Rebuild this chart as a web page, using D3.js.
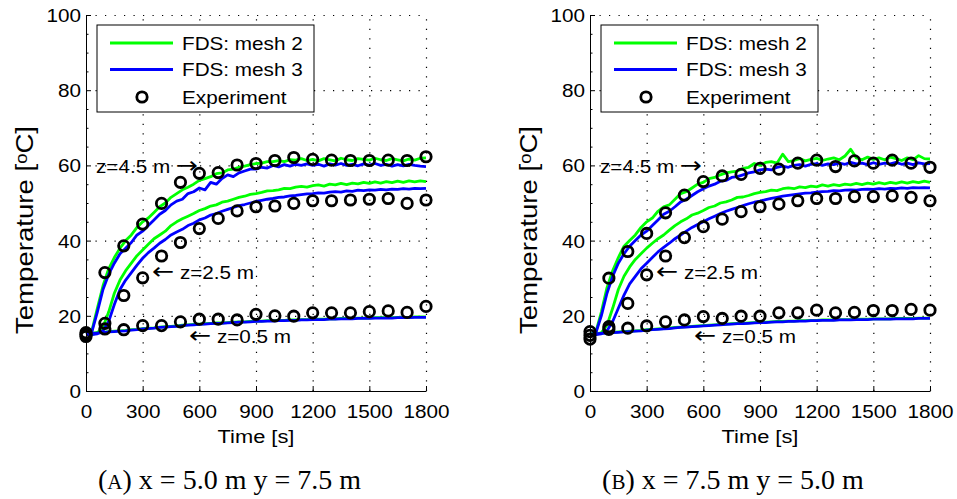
<!DOCTYPE html>
<html>
<head>
<meta charset="utf-8">
<script src="https://cdn.jsdelivr.net/npm/d3@7"></script>
<style>
body { margin: 0; background: #fff; }
text { font-family: "Liberation Sans", Arial, sans-serif; fill: #000; }
</style>
</head>
<body>
<script>
// tick labels
var xTicks = [0, 300, 600, 900, 1200, 1500, 1800];
var yTicks = [0, 20, 40, 60, 80, 100];
var legendLabels = ['FDS: mesh 2', 'FDS: mesh 3', 'Experiment'];
// [text before arrow, arrow, text after arrow]
var heightLabels = [['z=4.5 m ', '\u2192', ''], ['', '\u2190', ' z=2.5 m'], ['', '\u2190', ' z=0.5 m']];
var captions = [['A', ') x = 5.0 m y = 7.5 m'], ['B', ') x = 7.5 m y = 5.0 m']];

// FDS output, sampled every 30 s
var fdsTime = d3.range(0, 1801, 30);
// experiment, every 100 s
var expTime = d3.range(0, 1801, 100);

// (A) x = 5.0 m, y = 7.5 m
var A_g45 = [15.2,15.8,22.0,28.0,32.5,35.5,38.0,40.0,41.5,43.5,
  45.0,46.0,47.5,49.0,50.0,51.5,52.5,53.5,54.2,55.0,
  56.0,56.5,57.0,57.8,58.0,58.8,59.0,59.5,59.8,60.2,
  60.5,60.6,61.0,61.0,61.3,61.0,61.5,61.4,61.8,61.3,
  61.6,61.2,61.8,61.5,61.2,61.9,61.5,61.3,61.8,61.6,
  61.4,61.9,61.5,61.3,61.8,61.5,61.2,61.7,61.4,61.9,
  62.0];
var A_b45 = [15.0,15.5,21.0,27.0,31.0,34.0,36.5,38.0,39.5,41.5,
  42.5,44.0,45.5,47.0,48.0,49.5,50.5,51.0,52.5,53.0,
  54.0,53.5,55.5,55.0,56.5,57.5,57.0,58.0,58.5,59.0,
  59.0,59.5,59.3,60.0,59.6,60.2,59.8,60.3,60.0,60.4,
  60.0,60.3,59.8,60.4,60.1,60.5,60.0,60.3,59.9,60.4,
  60.1,60.5,60.0,60.3,59.8,60.2,59.9,60.3,60.0,59.8,
  59.7];
var A_g25 = [15.0,15.0,15.5,17.0,21.0,26.0,29.5,32.0,34.0,36.0,
  37.5,39.0,40.5,41.5,42.5,44.0,45.0,45.8,46.5,47.2,
  48.0,48.5,49.2,49.5,50.2,50.5,51.0,51.5,51.8,52.3,
  52.5,52.8,53.2,53.3,53.5,53.9,53.8,54.2,54.4,54.2,
  54.6,54.8,54.5,55.0,54.8,55.2,54.9,55.3,55.1,55.5,
  55.2,55.6,55.3,55.7,55.4,55.8,55.5,55.9,55.6,55.9,
  55.7];
var A_b25 = [15.0,15.0,15.2,16.0,18.5,23.0,27.0,29.5,31.5,33.5,
  35.3,36.8,38.0,39.3,40.3,41.5,42.3,43.0,44.0,44.6,
  45.5,46.0,46.8,47.2,47.8,48.3,48.8,49.3,49.6,50.0,
  50.4,50.7,51.0,51.2,51.5,51.6,51.9,52.0,52.2,52.4,
  52.5,52.7,52.6,52.9,53.0,52.9,53.2,53.1,53.4,53.3,
  53.5,53.4,53.6,53.5,53.7,53.6,53.8,53.7,53.9,53.8,
  53.9];
var A_g05 = [15.3,15.4,15.5,15.6,15.8,15.9,16.0,16.1,16.3,16.4,
  16.6,16.7,16.8,17.0,17.1,17.2,17.3,17.5,17.6,17.7,
  17.8,17.9,18.0,18.1,18.1,18.2,18.3,18.4,18.4,18.5,
  18.6,18.6,18.7,18.7,18.8,18.8,18.9,18.9,19.0,19.0,
  19.1,19.1,19.1,19.2,19.2,19.3,19.3,19.3,19.4,19.4,
  19.4,19.5,19.5,19.5,19.5,19.6,19.6,19.6,19.7,19.7,
  19.7];
var A_b05 = [15.2,15.3,15.4,15.5,15.7,15.8,15.9,16.0,16.2,16.3,
  16.5,16.6,16.7,16.9,17.0,17.1,17.2,17.4,17.5,17.6,
  17.7,17.8,17.9,18.0,18.0,18.1,18.2,18.3,18.3,18.4,
  18.5,18.5,18.6,18.6,18.7,18.7,18.8,18.8,18.9,18.9,
  19.0,19.0,19.0,19.1,19.1,19.2,19.2,19.2,19.3,19.3,
  19.3,19.4,19.4,19.4,19.4,19.5,19.5,19.5,19.6,19.6,
  19.6];
var A_e45 = [15.5,31.5,38.6,44.4,49.9,55.5,57.9,58.1,60.1,60.5,61.3,62.1,61.6,61.4,61.3,61.3,61.4,61.3,62.3];
var A_e25 = [15.0,18.0,25.4,30.1,35.9,39.5,43.2,45.9,47.9,49.0,49.2,49.9,50.6,50.6,50.8,51.0,51.2,49.9,50.8];
var A_e05 = [14.5,16.5,16.3,17.4,17.4,18.4,19.1,19.1,18.9,20.4,20.0,19.9,20.8,20.8,20.8,21.1,21.3,20.9,22.5];

// (B) x = 7.5 m, y = 5.0 m
var B_g45 = [15.0,15.5,21.0,27.5,32.0,35.5,38.5,40.0,41.5,43.5,
  45.0,46.0,47.8,49.0,49.5,51.0,52.5,53.0,54.0,55.0,
  55.5,56.5,56.8,57.5,58.0,58.3,58.5,59.2,59.5,60.5,
  60.0,60.8,61.0,60.6,63.0,61.0,61.3,61.8,61.2,61.6,
  61.9,61.3,61.7,62.0,61.5,62.5,64.3,62.0,61.5,62.2,
  61.6,62.0,61.5,62.2,61.8,61.3,62.0,61.5,62.6,61.8,
  61.7];
var B_b45 = [15.0,15.3,20.0,26.0,30.5,34.0,36.5,38.5,40.0,41.5,
  42.5,44.0,45.5,47.0,47.8,49.0,50.3,51.0,52.0,53.0,
  53.8,54.5,55.0,55.8,56.0,56.8,57.0,57.5,58.0,58.3,
  58.8,59.0,58.8,59.5,59.8,59.5,60.0,60.2,59.8,60.3,
  60.5,60.0,60.4,60.2,60.6,60.3,60.8,60.4,60.6,60.2,
  60.7,60.3,60.6,60.4,60.8,60.3,60.6,60.2,60.7,60.4,
  60.5];
var B_g25 = [15.0,15.0,15.5,17.5,22.0,27.0,30.5,33.0,35.0,36.5,
  38.0,39.3,40.5,41.5,42.8,44.0,45.0,45.8,46.8,47.3,
  48.0,48.8,49.2,50.0,50.3,50.8,51.5,51.6,52.0,52.5,
  52.8,53.0,53.4,53.3,53.8,54.0,53.8,54.3,54.1,54.5,
  54.3,54.8,54.5,54.9,54.6,55.0,54.8,55.2,54.9,55.3,
  55.0,55.4,55.1,55.5,55.2,55.6,55.3,55.7,55.4,55.8,
  55.5];
var B_b25 = [15.0,15.0,15.2,16.0,18.5,22.0,25.5,28.5,30.5,32.5,
  34.0,35.5,37.0,38.2,39.3,40.5,41.5,42.5,43.5,44.3,
  45.0,45.8,46.5,47.2,47.8,48.3,48.8,49.3,49.8,50.2,
  50.5,50.9,51.2,51.5,51.8,52.0,52.2,52.4,52.6,52.7,
  52.9,53.0,53.1,53.3,53.2,53.4,53.5,53.4,53.6,53.7,
  53.6,53.8,53.7,53.9,53.8,54.0,53.9,54.1,54.0,54.1,
  54.0];
var B_g05 = [15.2,15.3,15.4,15.5,15.6,15.7,15.8,15.9,16.0,16.1,
  16.3,16.4,16.5,16.6,16.7,16.9,17.0,17.1,17.2,17.3,
  17.4,17.5,17.6,17.7,17.8,17.9,18.0,18.0,18.1,18.2,
  18.3,18.3,18.4,18.5,18.5,18.6,18.6,18.7,18.7,18.8,
  18.8,18.9,18.9,18.9,19.0,19.0,19.0,19.1,19.1,19.1,
  19.2,19.2,19.2,19.2,19.3,19.3,19.3,19.3,19.4,19.4,
  19.4];
var B_b05 = [15.1,15.2,15.3,15.4,15.5,15.6,15.7,15.8,15.9,16.0,
  16.2,16.3,16.4,16.5,16.6,16.8,16.9,17.0,17.1,17.2,
  17.3,17.4,17.5,17.6,17.7,17.8,17.9,17.9,18.0,18.1,
  18.2,18.2,18.3,18.4,18.4,18.5,18.5,18.6,18.6,18.7,
  18.7,18.8,18.8,18.8,18.9,18.9,18.9,19.0,19.0,19.0,
  19.1,19.1,19.1,19.1,19.2,19.2,19.2,19.2,19.3,19.3,
  19.3];
var B_e45 = [15.8,30.0,37.1,41.9,47.4,52.1,55.7,57.2,57.6,59.2,59.0,60.6,61.4,59.7,61.2,60.6,61.4,60.6,59.5];
var B_e25 = [14.8,17.1,23.3,30.9,35.9,40.8,43.7,45.7,47.7,49.0,49.7,50.6,51.2,51.2,51.7,51.7,51.9,51.5,50.6];
var B_e05 = [13.8,16.4,16.7,17.3,18.4,18.9,19.8,19.3,19.9,19.9,20.8,20.8,21.5,20.8,20.9,21.4,21.4,21.7,21.5];

var panelData = [
  { green: [A_g45, A_g25, A_g05], blue: [A_b45, A_b25, A_b05], exp: [A_e45, A_e25, A_e05] },
  { green: [B_g45, B_g25, B_g05], blue: [B_b45, B_b25, B_b05], exp: [B_e45, B_e25, B_e05] }
];

var width = 957;
var height = 499;
var svg = d3.select('body')
  .append('svg')
  .attr('width', width)
  .attr('height', height);

var plotLeft = [86, 590];
var plotTop = 15;
var plotWidth = 340;
var plotHeight = 376;
var stretch = 'scale(1.15,1)';

var xScale = d3.scaleLinear().domain([0, 1800]).range([0, plotWidth]);
var yScale = d3.scaleLinear().domain([0, 100]).range([plotHeight, 0]);

// annotation spots inside each plot (px from plot origin)
var notePos = [
  [[10, 158], [66, 264], [103, 328]],
  [[10, 158], [66, 264], [104, 328]]
];
var captionX = [229.5, 733];

function stretchedText(g, x, y, s, anchor, size) {
  return g.append('text')
    .attr('transform', 'translate(' + x + ',' + y + ') ' + stretch)
    .attr('text-anchor', anchor)
    .style('font-size', size + 'px')
    .text(s);
}

panelData.forEach(function (pd, p) {
  var plot = svg.append('g')
    .classed('plot', true)
    .attr('transform', 'translate(' + plotLeft[p] + ',' + plotTop + ')');

  // dotted grid
  plot.append('g')
    .classed('grid', true)
    .attr('transform', 'translate(0,' + plotHeight + ')')
    .call(d3.axisBottom(xScale).tickValues(xTicks.slice(1)).tickSize(-plotHeight).tickFormat(''))
    .call(function (g) { g.select('.domain').remove(); });
  plot.append('g')
    .classed('grid', true)
    .call(d3.axisLeft(yScale).tickValues(yTicks.slice(1)).tickSize(-plotWidth).tickFormat(''))
    .call(function (g) { g.select('.domain').remove(); });
  plot.selectAll('.grid line')
    .attr('stroke', '#000')
    .attr('stroke-width', 1.2)
    .attr('stroke-dasharray', '1.2,8.3');

  // FDS lines: mesh 2 first, mesh 3 over it
  var line = d3.line()
    .x(function (d, i) { return xScale(fdsTime[i]); })
    .y(function (d) { return yScale(d); });
  pd.green.forEach(function (s) {
    plot.append('path').datum(s)
      .attr('d', line)
      .attr('fill', 'none')
      .attr('stroke', '#00ff00')
      .attr('stroke-width', 2.8)
      .attr('stroke-linejoin', 'round');
  });
  pd.blue.forEach(function (s) {
    plot.append('path').datum(s)
      .attr('d', line)
      .attr('fill', 'none')
      .attr('stroke', '#0000ff')
      .attr('stroke-width', 2.8)
      .attr('stroke-linejoin', 'round');
  });

  // experiment markers
  pd.exp.forEach(function (s) {
    plot.append('g').selectAll('circle')
      .data(s)
      .enter()
      .append('circle')
      .attr('cx', function (d, i) { return xScale(expTime[i]); })
      .attr('cy', function (d) { return yScale(d); })
      .attr('r', 5.2)
      .attr('fill', 'none')
      .attr('stroke', '#000')
      .attr('stroke-width', 2.8);
  });

  // axes
  var xAxisGroup = plot.append('g')
    .classed('axis', true)
    .attr('transform', 'translate(0,' + plotHeight + ')')
    .call(d3.axisBottom(xScale).tickValues(xTicks).tickFormat(d3.format('d'))
      .tickSizeInner(-5).tickSizeOuter(0).tickPadding(0));
  xAxisGroup.selectAll('text')
    .attr('y', null).attr('dy', null)
    .attr('transform', 'translate(0,27) ' + stretch)
    .style('font-size', '18px');
  var yAxisGroup = plot.append('g')
    .classed('axis', true)
    .call(d3.axisLeft(yScale).tickValues(yTicks).tickSizeInner(-5).tickSizeOuter(0).tickPadding(0));
  yAxisGroup.selectAll('text')
    .attr('x', null).attr('dy', null)
    .attr('transform', 'translate(-5,6.5) ' + stretch)
    .style('font-size', '18px');
  plot.append('g')
    .call(d3.axisLeft(yScale).tickValues(d3.range(0, 101, 5).filter(function (v) { return v % 20; }))
      .tickSizeInner(-2.5).tickSizeOuter(0).tickFormat(''))
    .call(function (g) { g.select('.domain').remove(); });
  plot.selectAll('.axis .domain, .axis line, g line')
    .filter(function () { return !this.parentNode.parentNode.classList.contains('grid'); })
    .attr('stroke', '#000')
    .attr('stroke-width', 1);

  // axis titles
  stretchedText(plot, plotWidth / 2, plotHeight + 52, 'Time [s]', 'middle', 19);
  var yl = plot.append('text')
    .attr('transform', 'translate(-53,215) rotate(-90) ' + stretch)
    .attr('text-anchor', 'middle')
    .style('font-size', '24px');
  yl.append('tspan').text('Temperature [');
  yl.append('tspan').attr('baseline-shift', '38%').style('font-size', '16px').text('o');
  yl.append('tspan').text('C]');

  // height notes, arrows drawn with a font that has full-size arrows
  heightLabels.forEach(function (s, k) {
    var t = stretchedText(plot, notePos[p][k][0], notePos[p][k][1], '', 'start', 18);
    t.append('tspan').text(s[0]);
    t.append('tspan')
      .style('font-family', '"DejaVu Sans", sans-serif')
      .style('font-size', '23px')
      .text(s[1]);
    t.append('tspan').text(s[2]);
  });

  // legend
  var leg = plot.append('g').attr('transform', 'translate(11,10)');
  leg.append('rect')
    .attr('width', 217).attr('height', 87)
    .attr('fill', '#fff').attr('stroke', '#000').attr('stroke-width', 1);
  var rowY = [18, 44.5, 72];
  ['#00ff00', '#0000ff'].forEach(function (c, k) {
    leg.append('line')
      .attr('x1', 13).attr('x2', 76)
      .attr('y1', rowY[k]).attr('y2', rowY[k])
      .attr('stroke', c).attr('stroke-width', 3);
  });
  leg.append('circle')
    .attr('cx', 45).attr('cy', rowY[2]).attr('r', 5.2)
    .attr('fill', 'none').attr('stroke', '#000').attr('stroke-width', 2.8);
  legendLabels.forEach(function (s, k) {
    stretchedText(leg, 85, rowY[k] + 6.5, s, 'start', 18);
  });
});

// captions
captions.forEach(function (c, p) {
  var t = svg.append('text')
    .attr('x', captionX[p]).attr('y', 489)
    .attr('text-anchor', 'middle')
    .style('font-family', '"Liberation Serif", "DejaVu Serif", serif')
    .style('font-size', '28px');
  t.append('tspan').text('(');
  t.append('tspan').style('font-size', '21px').text(c[0]);
  t.append('tspan').text(c[1]);
});
</script>
</body>
</html>
